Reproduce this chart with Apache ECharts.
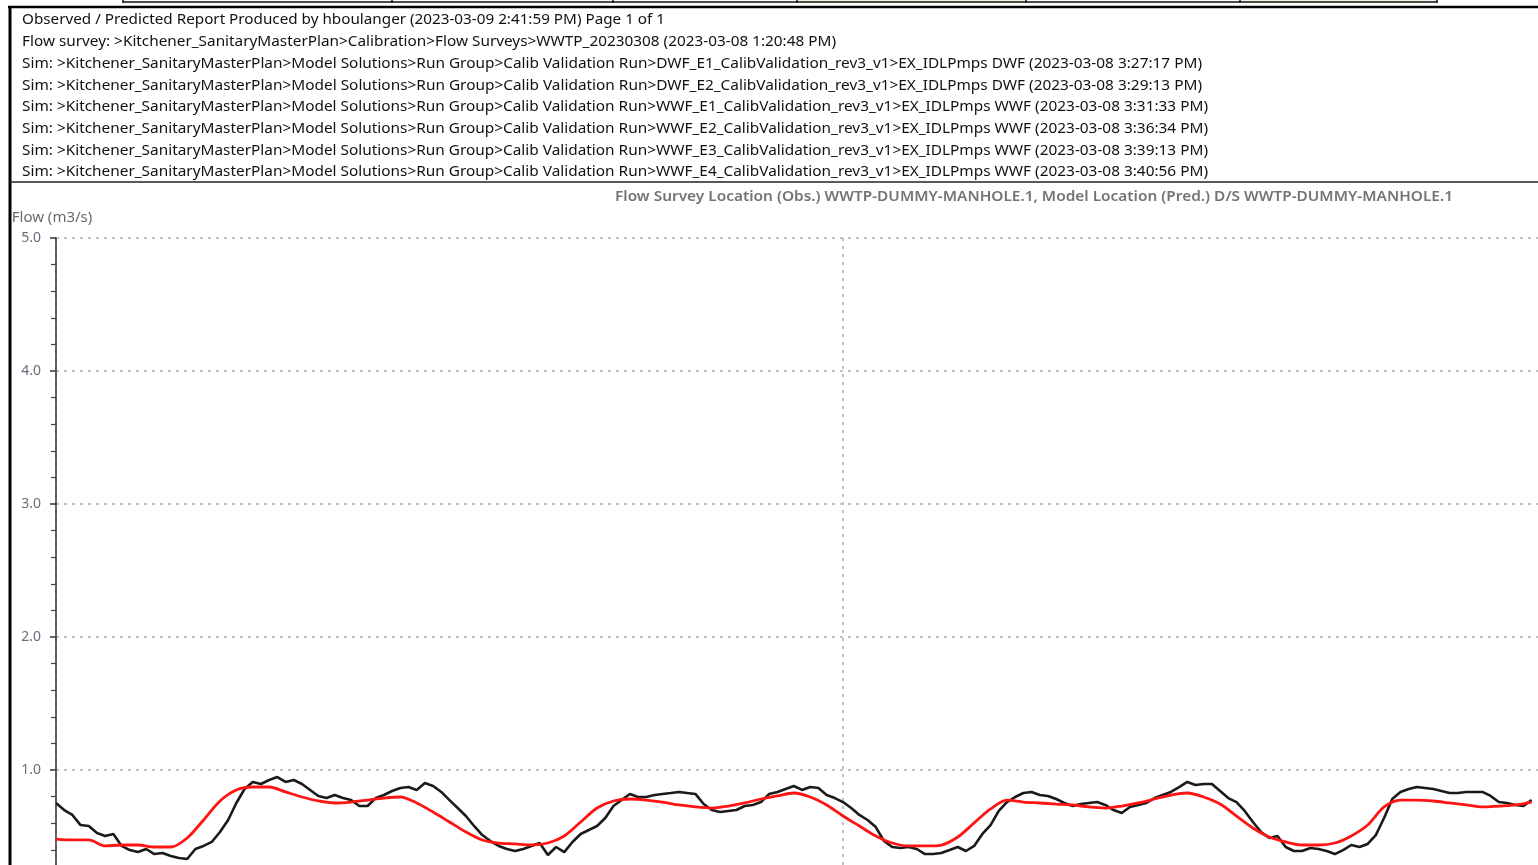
<!DOCTYPE html>
<html>
<head>
<meta charset="utf-8">
<title>Observed / Predicted Report</title>
<script src="https://cdn.jsdelivr.net/npm/echarts@6/dist/echarts.min.js"></script>
<style>
  html, body { margin: 0; padding: 0; background: #fff; }
  #chart { width: 1538px; height: 865px; }
</style>
</head>
<body>
<div id="chart"></div>
<script>
// ---- report header ----
const reportLines = [
  'Observed / Predicted Report Produced by hboulanger (2023-03-09 2:41:59 PM) Page 1 of 1',
  'Flow survey: >Kitchener_SanitaryMasterPlan>Calibration>Flow Surveys>WWTP_20230308 (2023-03-08 1:20:48 PM)',
  'Sim: >Kitchener_SanitaryMasterPlan>Model Solutions>Run Group>Calib Validation Run>DWF_E1_CalibValidation_rev3_v1>EX_IDLPmps DWF (2023-03-08 3:27:17 PM)',
  'Sim: >Kitchener_SanitaryMasterPlan>Model Solutions>Run Group>Calib Validation Run>DWF_E2_CalibValidation_rev3_v1>EX_IDLPmps DWF (2023-03-08 3:29:13 PM)',
  'Sim: >Kitchener_SanitaryMasterPlan>Model Solutions>Run Group>Calib Validation Run>WWF_E1_CalibValidation_rev3_v1>EX_IDLPmps WWF (2023-03-08 3:31:33 PM)',
  'Sim: >Kitchener_SanitaryMasterPlan>Model Solutions>Run Group>Calib Validation Run>WWF_E2_CalibValidation_rev3_v1>EX_IDLPmps WWF (2023-03-08 3:36:34 PM)',
  'Sim: >Kitchener_SanitaryMasterPlan>Model Solutions>Run Group>Calib Validation Run>WWF_E3_CalibValidation_rev3_v1>EX_IDLPmps WWF (2023-03-08 3:39:13 PM)',
  'Sim: >Kitchener_SanitaryMasterPlan>Model Solutions>Run Group>Calib Validation Run>WWF_E4_CalibValidation_rev3_v1>EX_IDLPmps WWF (2023-03-08 3:40:56 PM)'
];
const chartTitle = 'Flow Survey Location (Obs.) WWTP-DUMMY-MANHOLE.1, Model Location (Pred.) D/S WWTP-DUMMY-MANHOLE.1';
const yAxisTitle = 'Flow (m3/s)';

// ---- axes ----
const yMin = 0, yMax = 5, yStep = 1;      // tick labels 0.0 .. 5.0
const xMinHours = 0, xMaxHours = 96, xStepHours = 48;

// ---- observed flow (m3/s), one reading every 30 minutes ----
const observedStepHours = 0.5;
const observed = [
  0.752,0.699,0.662,0.586,0.579,0.526,0.504,0.519,0.429,0.398,
  0.383,0.406,0.368,0.376,0.353,0.338,0.331,0.406,0.429,0.459,
  0.534,0.624,0.752,0.857,0.910,0.895,0.925,0.947,0.910,0.925,
  0.895,0.850,0.805,0.789,0.812,0.789,0.774,0.729,0.729,0.789,
  0.812,0.842,0.865,0.872,0.850,0.902,0.880,0.835,0.774,0.714,
  0.654,0.579,0.511,0.466,0.429,0.406,0.391,0.406,0.429,0.451,
  0.361,0.421,0.383,0.459,0.519,0.549,0.579,0.639,0.729,0.774,
  0.820,0.797,0.797,0.812,0.820,0.827,0.835,0.827,0.820,0.744,
  0.699,0.684,0.692,0.699,0.729,0.737,0.759,0.820,0.835,0.857,
  0.880,0.850,0.872,0.865,0.812,0.789,0.759,0.714,0.662,0.624,
  0.571,0.466,0.421,0.414,0.421,0.406,0.368,0.368,0.376,0.398,
  0.421,0.391,0.429,0.519,0.586,0.692,0.759,0.797,0.827,0.835,
  0.812,0.805,0.782,0.752,0.729,0.744,0.752,0.759,0.737,0.699,
  0.677,0.722,0.737,0.752,0.789,0.812,0.835,0.872,0.910,0.887,
  0.895,0.895,0.842,0.789,0.759,0.692,0.609,0.534,0.489,0.504,
  0.421,0.391,0.391,0.414,0.406,0.391,0.368,0.398,0.436,0.421,
  0.444,0.511,0.639,0.782,0.835,0.857,0.872,0.865,0.857,0.842,
  0.827,0.827,0.835,0.835,0.835,0.805,0.759,0.752,0.737,0.729,
  0.774
];

// ---- predicted flow (m3/s), one value every hour ----
const predictedStepHours = 1;
const predicted = [
  0.481,0.474,0.474,0.429,0.436,0.436,0.421,0.421,0.489,0.624,
  0.767,0.850,0.872,0.872,0.835,0.797,0.767,0.752,0.759,0.774,
  0.789,0.797,0.752,0.684,0.609,0.534,0.474,0.451,0.444,0.436,
  0.451,0.504,0.609,0.714,0.767,0.782,0.774,0.759,0.737,0.722,
  0.714,0.729,0.752,0.782,0.805,0.827,0.797,0.737,0.654,0.579,
  0.504,0.451,0.429,0.429,0.436,0.496,0.602,0.707,0.774,0.759,
  0.752,0.744,0.737,0.722,0.714,0.729,0.752,0.782,0.812,0.827,
  0.797,0.744,0.654,0.564,0.496,0.459,0.436,0.436,0.451,0.504,
  0.586,0.722,0.774,0.774,0.767,0.752,0.737,0.722,0.729,0.737,
  0.759
];

// ---- helpers ----
const FONT_FAMILY = '"Noto Sans", "Open Sans", "DejaVu Sans", sans-serif';
const measureCtx = document.createElement('canvas').getContext('2d');
function widthScale(text, font, targetWidth) {
  measureCtx.font = font;
  const w = measureCtx.measureText(text).width;
  return w > 0 ? targetWidth / w : 1;
}
function toPairs(values, step) {
  return values.map((v, i) => [i * step, v]);
}

// header text: left edge, first row centre, row pitch and right edge of each row
const headerLeft = 22, headerTop = 20.5, headerPitch = 21.7;
const headerRight = [665, 836, 1202, 1202, 1208, 1208, 1208, 1208];
const headerFont = '14px ' + FONT_FAMILY;

const graphics = [];

// strip of table cells above the frame
const stripCells = [123, 392, 613, 797, 1026, 1240, 1437];
graphics.push({ type: 'rect', shape: { x: 797, y: 0, width: 229, height: 2 }, style: { fill: '#eef5e3' }, silent: true });
graphics.push({ type: 'rect', shape: { x: 1240, y: 0, width: 197, height: 2 }, style: { fill: '#eef5e3' }, silent: true });
graphics.push({ type: 'line', shape: { x1: 123, y1: 2, x2: 1437, y2: 2 }, style: { stroke: '#111', lineWidth: 1.5 }, silent: true });
stripCells.forEach(x => graphics.push({
  type: 'line', shape: { x1: x, y1: 0, x2: x, y2: 3 }, style: { stroke: '#111', lineWidth: 1.5 }, silent: true
}));

// report frame
graphics.push({ type: 'line', shape: { x1: 8, y1: 7, x2: 1538, y2: 7 }, style: { stroke: '#000', lineWidth: 2.5 }, silent: true });
graphics.push({ type: 'line', shape: { x1: 10, y1: 6, x2: 10, y2: 865 }, style: { stroke: '#000', lineWidth: 3 }, silent: true });
graphics.push({ type: 'line', shape: { x1: 10, y1: 182, x2: 1538, y2: 182 }, style: { stroke: '#222', lineWidth: 1.5 }, silent: true });

reportLines.forEach((line, i) => {
  graphics.push({
    type: 'text',
    x: headerLeft,
    y: headerTop + i * headerPitch,
    scaleX: widthScale(line, headerFont, headerRight[i] - headerLeft),
    silent: true,
    style: {
      text: line, font: headerFont, fill: '#111',
      textAlign: 'left', textVerticalAlign: 'middle'
    }
  });
});

// chart title, right aligned
const titleFont = '600 14px ' + FONT_FAMILY;
graphics.push({
  type: 'text',
  x: 1453,
  y: 197,
  scaleX: widthScale(chartTitle, titleFont, 1453 - 615),
  silent: true,
  style: {
    text: chartTitle, font: titleFont, fill: '#747474',
    textAlign: 'right', textVerticalAlign: 'middle'
  }
});

const dotted = { color: '#c2c2c2', width: 2, type: [3, 5] };

const option = {
  backgroundColor: '#fff',
  animation: false,
  graphic: { elements: graphics },
  grid: {
    left: 56, top: 238, width: 1574, height: 665,
    containLabel: false,
    outerBoundsMode: 'none'
  },
  xAxis: {
    type: 'value',
    min: xMinHours, max: xMaxHours, interval: xStepHours,
    axisLine: { show: false },
    axisTick: { show: false },
    axisLabel: { show: false },
    splitLine: { show: true, lineStyle: dotted }
  },
  yAxis: {
    type: 'value',
    min: yMin, max: yMax, interval: yStep,
    offset: 4,
    name: yAxisTitle,
    nameLocation: 'end',
    nameGap: 13,
    nameTextStyle: { color: '#6e6868', fontSize: 15, fontFamily: FONT_FAMILY, align: 'center', padding: [0, 0, 0, -8] },
    axisLine: { show: true, lineStyle: { color: '#333', width: 1.5 } },
    axisTick: { show: true, length: 6, lineStyle: { color: '#333', width: 1.5 } },
    minorTick: { show: true, splitNumber: 5, length: 5, lineStyle: { color: '#444', width: 1.2 } },
    axisLabel: {
      color: '#6d6d7c', fontSize: 14, fontFamily: FONT_FAMILY, margin: 11,
      formatter: v => v.toFixed(1)
    },
    splitLine: { show: true, lineStyle: dotted }
  },
  series: [
    {
      name: 'Observed',
      type: 'line',
      data: toPairs(observed, observedStepHours),
      showSymbol: false,
      lineStyle: { color: '#1a1a1a', width: 2.6 },
      z: 3
    },
    {
      name: 'Predicted',
      type: 'line',
      data: toPairs(predicted, predictedStepHours),
      showSymbol: false,
      smooth: 0.3,
      lineStyle: { color: '#ff1414', width: 2.8 },
      z: 4
    }
  ]
};

const chart = echarts.init(document.getElementById('chart'), null, { renderer: 'canvas' });
chart.setOption(option);
</script>
</body>
</html>
